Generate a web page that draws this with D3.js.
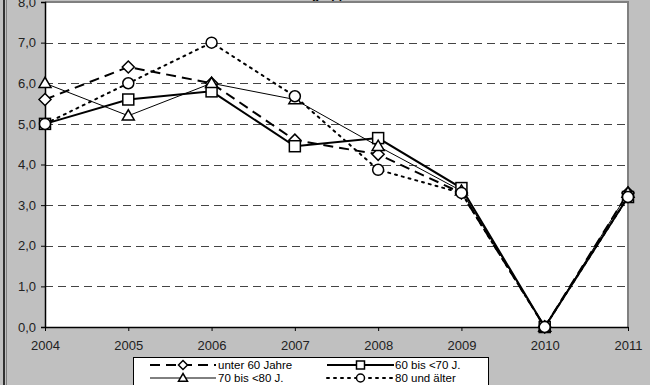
<!DOCTYPE html>
<html>
<head>
<meta charset="utf-8">
<script src="https://cdn.jsdelivr.net/npm/d3@7"></script>
<style>
  html, body { margin: 0; padding: 0; background: #c0c0c0; }
  svg { display: block; }
  text { font-family: "Liberation Sans", Arial, sans-serif; }
</style>
</head>
<body>
<div id="chart"></div>
<script>
// chart data
const years = ['2004', '2005', '2006', '2007', '2008', '2009', '2010', '2011'];
const unter60 = [5.6, 6.4, 6.0, 4.6, 4.25, 3.3, 0, 3.3];
const bis70 = [5.0, 5.6, 5.8, 4.45, 4.65, 3.42, 0, 3.2];
const bis80 = [6.0, 5.2, 6.0, 5.6, 4.45, 3.35, 0, 3.3];
const ab80 = [5.0, 6.0, 7.0, 5.68, 3.87, 3.3, 0, 3.2];
const yTicks = [0, 1, 2, 3, 4, 5, 6, 7, 8];
const seriesNames = ['unter 60 Jahre', '60 bis <70 J.', '70 bis <80 J.', '80 und älter'];

const width = 650, height = 385;
const plotLeft = 45, plotRight = 628, plotTop = 2, plotBottom = 327;

const series = [
  { name: seriesNames[0], values: unter60, marker: 'diamond', width: 2, dash: '10,6' },
  { name: seriesNames[1], values: bis70, marker: 'square', width: 2, dash: null },
  { name: seriesNames[2], values: bis80, marker: 'triangle', width: 1, dash: null },
  { name: seriesNames[3], values: ab80, marker: 'circle', width: 2, dash: '2,5' },
];

const svg = d3.select('#chart').append('svg')
  .attr('width', width).attr('height', height);

svg.append('rect').attr('width', width).attr('height', height).attr('fill', '#c0c0c0');

// outer frame on the left
svg.append('rect').attr('x', 3).attr('y', 0).attr('width', 2).attr('height', height).attr('fill', '#303030');
svg.append('rect').attr('x', 6).attr('y', 0).attr('width', 1).attr('height', height).attr('fill', '#808080');

// title (cut off at the top, as in the original)
svg.append('text')
  .attr('x', 278).attr('y', -1)
  .attr('font-size', '12px').attr('font-weight', 'bold')
  .attr('fill', '#000')
  .text('Altersgruppen');

const x = d3.scalePoint().domain(years).range([plotLeft, plotRight]);
const y = d3.scaleLinear().domain([0, 8]).range([plotBottom, plotTop]);

// plot area
svg.append('rect')
  .attr('x', plotLeft).attr('y', plotTop)
  .attr('width', plotRight - plotLeft).attr('height', plotBottom - plotTop)
  .attr('fill', '#fff');

// grid
svg.append('g').selectAll('line')
  .data(yTicks.filter(d => d > 0 && d < 8))
  .join('line')
  .attr('x1', plotLeft).attr('x2', plotRight)
  .attr('y1', d => Math.round(y(d)) + 0.5).attr('y2', d => Math.round(y(d)) + 0.5)
  .attr('stroke', '#444').attr('stroke-width', 1)
  .attr('stroke-dasharray', '8,5');

// plot border top/right
svg.append('path')
  .attr('d', `M${plotLeft},${plotTop} H${plotRight} V${plotBottom}`)
  .attr('fill', 'none').attr('stroke', '#808080').attr('stroke-width', 2);

// axes
const yAxis = d3.axisLeft(y).tickValues(yTicks).tickSize(4).tickPadding(5)
  .tickFormat(d => d3.format('.1f')(d).replace('.', ','));
const gy = svg.append('g').attr('transform', `translate(${plotLeft},0)`).call(yAxis);
gy.select('.domain').attr('stroke', '#000').attr('stroke-width', 1.5);
gy.selectAll('.tick line').attr('stroke', '#000');
gy.selectAll('text').attr('font-size', '13px').attr('fill', '#222')
  .attr('font-family', '"Liberation Sans", Arial, sans-serif');

const xAxis = d3.axisBottom(x).tickSize(4).tickSizeOuter(0).tickPadding(10);
const gx = svg.append('g').attr('transform', `translate(0,${plotBottom})`).call(xAxis);
gx.select('.domain').attr('stroke', '#000').attr('stroke-width', 1.5);
gx.selectAll('.tick line').attr('stroke', '#000');
gx.selectAll('text').attr('font-size', '13px').attr('fill', '#222')
  .attr('font-family', '"Liberation Sans", Arial, sans-serif');

function drawMarker(g, type, cx, cy, s) {
  if (type === 'diamond') {
    g.append('path')
      .attr('d', `M${cx},${cy - s} L${cx + s},${cy} L${cx},${cy + s} L${cx - s},${cy} Z`);
  } else if (type === 'square') {
    g.append('rect').attr('x', cx - s + 0.5).attr('y', cy - s + 0.5)
      .attr('width', 2 * s - 1).attr('height', 2 * s - 1);
  } else if (type === 'triangle') {
    g.append('path')
      .attr('d', `M${cx},${cy - s} L${cx + s},${cy + s * 0.7} L${cx - s},${cy + s * 0.7} Z`);
  } else {
    g.append('circle').attr('cx', cx).attr('cy', cy).attr('r', s - 0.5);
  }
}

const line = d3.line().x((d, i) => x(years[i])).y(d => y(d));

// lines
series.forEach(s => {
  svg.append('path')
    .datum(s.values)
    .attr('d', line)
    .attr('fill', 'none')
    .attr('stroke', '#000')
    .attr('stroke-width', s.width)
    .attr('stroke-dasharray', s.dash)
    .attr('stroke-linecap', s.dash === '2,5' ? 'round' : 'butt');
});

// markers
series.forEach(s => {
  const g = svg.append('g').attr('fill', '#fff').attr('stroke', '#000').attr('stroke-width', 1.5);
  s.values.forEach((v, i) => drawMarker(g, s.marker, x(years[i]), y(v), 6));
});

// legend
const legend = svg.append('g');
legend.append('rect')
  .attr('x', 133.5).attr('y', 357.5).attr('width', 355).attr('height', 32)
  .attr('fill', '#fff').attr('stroke', '#000').attr('stroke-width', 1);

const legendPos = [
  { lx1: 150, lx2: 216, tx: 218, y: 365 },
  { lx1: 327, lx2: 394, tx: 395, y: 365 },
  { lx1: 150, lx2: 216, tx: 218, y: 378 },
  { lx1: 327, lx2: 394, tx: 395, y: 378 },
];
series.forEach((s, i) => {
  const p = legendPos[i];
  legend.append('line')
    .attr('x1', p.lx1).attr('x2', p.lx2).attr('y1', p.y).attr('y2', p.y)
    .attr('stroke', '#000').attr('stroke-width', s.width)
    .attr('stroke-dasharray', s.dash)
    .attr('stroke-linecap', s.dash === '2,5' ? 'round' : 'butt');
  const g = legend.append('g').attr('fill', '#fff').attr('stroke', '#000').attr('stroke-width', 1.5);
  drawMarker(g, s.marker, (p.lx1 + p.lx2) / 2, p.y, 4.5);
  legend.append('text')
    .attr('x', p.tx).attr('y', p.y + 4)
    .attr('font-size', '11.5px').attr('fill', '#000')
    .text(s.name);
});
</script>
</body>
</html>
